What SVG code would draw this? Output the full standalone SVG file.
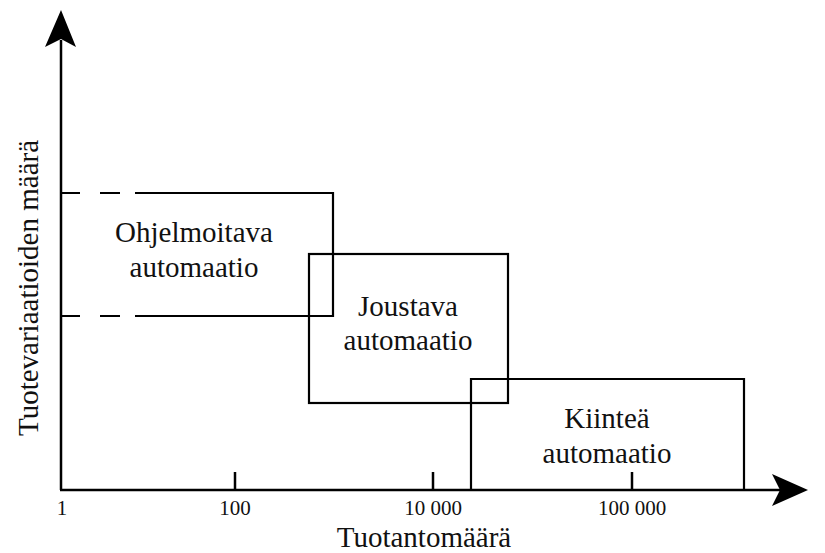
<svg xmlns="http://www.w3.org/2000/svg" width="825" height="553" viewBox="0 0 825 553">
  <style>
    .axis { stroke: #000; stroke-width: 2.5; fill: none; }
    .box { stroke: #000; stroke-width: 2.2; fill: none; }
    .lbl { font-family: "Liberation Serif", "Times New Roman", serif; font-size: 29px; fill: #111; text-anchor: middle; }
    .tick { font-family: "Liberation Serif", "Times New Roman", serif; font-size: 21px; fill: #111; text-anchor: middle; }
  </style>
  <rect width="825" height="553" fill="#fff"/>

  <!-- axes -->
  <g id="axes">
    <line class="axis" x1="61" y1="490" x2="61" y2="40"/>
    <polygon points="61,10 45,47 61,39 76,47" fill="#000"/>
    <line class="axis" x1="60" y1="490" x2="785" y2="490"/>
    <polygon points="808,490 772,474 780,490 772,506" fill="#000"/>
    <line class="axis" x1="235" y1="472" x2="235" y2="490"/>
    <line class="axis" x1="433" y1="472" x2="433" y2="490"/>
    <line class="axis" x1="632" y1="472" x2="632" y2="490"/>
    <text class="tick" x="62" y="515">1</text>
    <text class="tick" x="235" y="515">100</text>
    <text class="tick" x="433" y="515">10 000</text>
    <text class="tick" x="632" y="515">100 000</text>
    <text class="lbl" x="424" y="547">Tuotantomäärä</text>
    <text class="lbl" transform="translate(38,288) rotate(-90)">Tuotevariaatioiden määrä</text>
  </g>

  <!-- programmable automation -->
  <g id="ohjelmoitava">
    <path class="box" d="M61,193 H80 M100,193 H120 M135,193 H333 V316 H135 M120,316 H100 M80,316 H61"/>
    <text class="lbl" x="194" y="242">Ohjelmoitava</text>
    <text class="lbl" x="194" y="277">automaatio</text>
  </g>

  <!-- flexible automation -->
  <g id="joustava">
    <rect class="box" x="309" y="254" width="199" height="149"/>
    <text class="lbl" x="408" y="316">Joustava</text>
    <text class="lbl" x="408" y="350">automaatio</text>
  </g>

  <!-- fixed automation -->
  <g id="kiintea">
    <path class="box" d="M471,490 V379 H744 V490"/>
    <text class="lbl" x="607" y="428">Kiinteä</text>
    <text class="lbl" x="607" y="463">automaatio</text>
  </g>
</svg>
